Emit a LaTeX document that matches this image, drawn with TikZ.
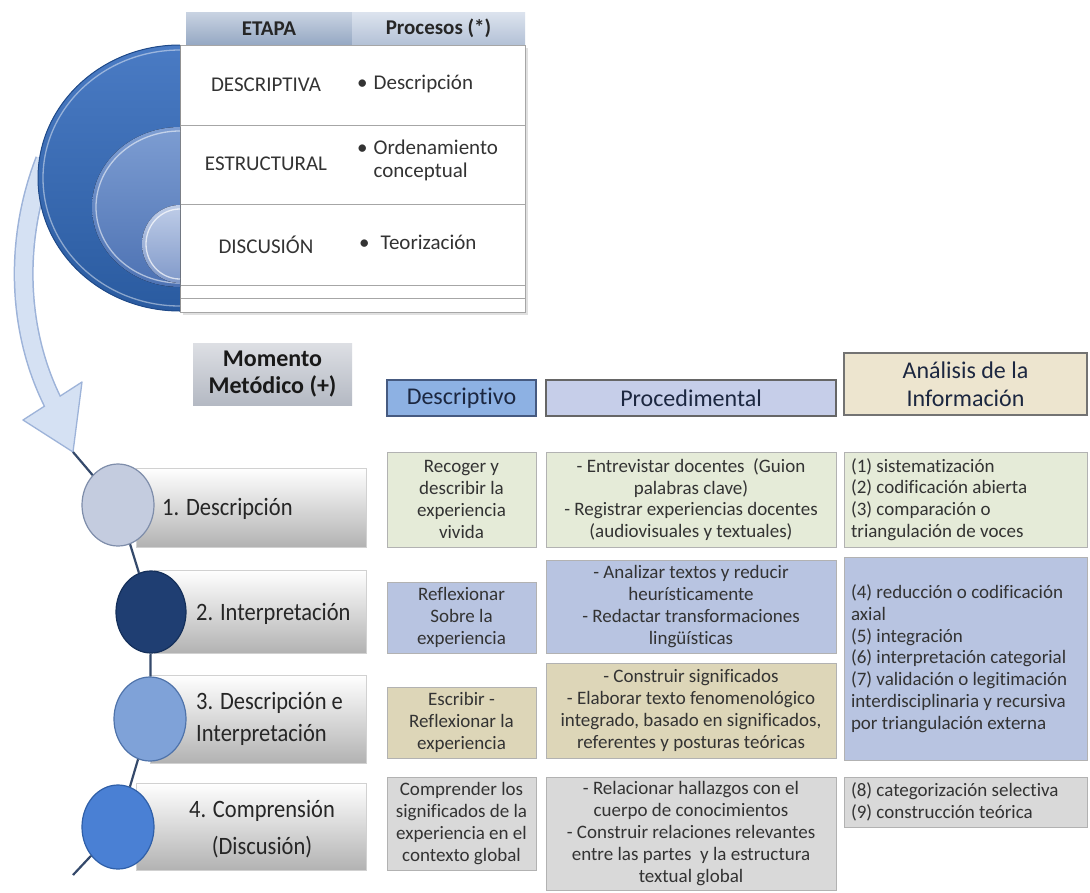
\documentclass[tikz,border=0pt]{standalone}
\usepackage{fontspec}
\setmainfont{Carlito}[Ligatures=NoCommon]
\newfontfamily\condfont{Carlito}[FakeStretch=0.9,Ligatures=NoCommon]
\usetikzlibrary{shapes.geometric}
\newcommand\fsz[2]{\fontsize{#1}{#2}\selectfont}
\definecolor{txt}{HTML}{333333}
\definecolor{hdtxt}{HTML}{1C2740}
\definecolor{linkc}{HTML}{34496B}
\definecolor{arrfill}{HTML}{D5E1F3}
\definecolor{arrline}{HTML}{9DB3D9}
\definecolor{greenc}{HTML}{E5EBD8}
\definecolor{lavc}{HTML}{B8C4E1}
\definecolor{beigec}{HTML}{DDD6B8}
\definecolor{grayc}{HTML}{D9D9D9}
\definecolor{etTop}{HTML}{C9D3E2}
\definecolor{etBot}{HTML}{95A8C3}
\definecolor{prTop}{HTML}{DCE3EE}
\definecolor{prBot}{HTML}{B3C1D6}
\definecolor{d1Top}{HTML}{4A7BC4}
\definecolor{d1Bot}{HTML}{2A5BA0}
\definecolor{d1Brd}{HTML}{1F4A8A}
\definecolor{d2Top}{HTML}{7D9DD2}
\definecolor{d2Bot}{HTML}{4D72B3}
\definecolor{d3Top}{HTML}{BFCDE8}
\definecolor{d3Bot}{HTML}{8099C9}
\definecolor{c1Fill}{HTML}{C4CCDF}
\definecolor{c1Brd}{HTML}{7E8DAA}
\definecolor{c2Fill}{HTML}{1F3E72}
\definecolor{c2Brd}{HTML}{142F5A}
\definecolor{c3Fill}{HTML}{7FA2D8}
\definecolor{c3Brd}{HTML}{4F73AA}
\definecolor{c4Fill}{HTML}{4A80D4}
\definecolor{c4Brd}{HTML}{2F5FA8}
\definecolor{hDFill}{HTML}{8DB1E3}
\definecolor{hDBrd}{HTML}{465A80}
\definecolor{hPFill}{HTML}{C6CEE9}
\definecolor{hAFill}{HTML}{EDE5CF}
\definecolor{momTop}{HTML}{DDDFE4}
\definecolor{momBot}{HTML}{B4B9C3}
\begin{document}
\begin{tikzpicture}[x=1pt,y=1pt,
  cellbox/.style={rectangle, draw=black!30, line width=0.7pt, inner sep=0pt, align=center, text=txt, font=\fsz{19}{21.8}},
  leftcell/.style={cellbox, text width=229pt, inner xsep=7pt, align=flush left},
  hdbox/.style={rectangle, line width=1.2pt, inner sep=0pt, align=center, text=hdtxt, font=\fsz{24}{28}},
  barbox/.style={rectangle, inner sep=0pt, top color=white, middle color=black!3, bottom color=black!30, draw=black!18, line width=0.6pt},
  circ/.style={ellipse, inner sep=0pt, line width=1.2pt},
  link/.style={draw=linkc, line width=2.2pt},
  tophead/.style={rectangle, inner sep=0pt, font=\bfseries\fsz{21}{24}, text=black!85, minimum height=33pt},
  toptxt/.style={font=\fsz{21}{23}, text=txt, inner sep=0pt},
  barlbl/.style={font=\condfont\fsz{25}{32}, text=black!85, inner sep=0pt},
  tabline/.style={draw=black!35, line width=0.8pt}]
\useasboundingbox (0,0) rectangle (1090,-892);
\fill[white] (0,0) rectangle (1090,-892);

% ---------- top table ----------
\node[tophead, minimum width=166pt, top color=etTop, bottom color=etBot] (hEtapa) at (269,-28.5) {ETAPA};
\node[tophead, minimum width=173pt, top color=prTop, bottom color=prBot] (hProc) at (438.5,-28.5) {Procesos (*)};
\fill[black!12] (183,-48) rectangle (528,-315);
\filldraw[fill=white, draw=black!35, line width=0.8pt] (180,-45) rectangle (525,-312);
\draw[tabline] (180,-125) -- (525,-125);
\draw[tabline] (180,-204) -- (525,-204);
\draw[tabline] (180,-285) -- (525,-285);
\draw[tabline] (180,-298) -- (525,-298);
\node[toptxt] (tDes) at (266,-85) {DESCRIPTIVA};
\node[toptxt] (tEst) at (266,-164) {ESTRUCTURAL};
\node[toptxt] (tDis) at (266,-245) {DISCUSIÓN};
\node[toptxt, anchor=west] (pDes) at (357,-85) {\begin{tabular}{@{}l@{\hspace{6pt}}l@{}}•&Descripción\end{tabular}};
\node[toptxt, anchor=west] (pOrd) at (357,-161.5) {\begin{tabular}{@{}l@{\hspace{6pt}}l@{}}•&Ordenamiento\\&conceptual\end{tabular}};
\node[toptxt, anchor=west] (pTeo) at (359,-245) {\begin{tabular}{@{}l@{\hspace{11pt}}l@{}}•&Teorización\end{tabular}};

% ---------- curved arrow ----------
\draw[line width=20pt, color=arrline] (45,-160) .. controls (12,-245) and (18,-340) .. (58,-412);
\filldraw[fill=arrfill, draw=arrline, line width=1.3pt, line join=round] (23,-420) -- (82,-382) -- (73,-452) -- cycle;
\draw[line width=17pt, color=arrfill] (45,-160) .. controls (12,-245) and (18,-340) .. (58,-412);
\coordinate (atip) at (73,-452);

% ---------- nested half discs ----------
\fill[top color=d1Top, bottom color=d1Bot]
  (180,-45) arc[start angle=90, end angle=270, x radius=142, y radius=133] -- cycle;
\draw[d1Brd, line width=1pt] (180,-45) arc[start angle=90, end angle=270, x radius=142, y radius=133];
\draw[white, opacity=0.45, line width=1.3pt] (180,-50) arc[start angle=90, end angle=270, x radius=137, y radius=128];
\fill[top color=d2Top, bottom color=d2Bot]
  (180,-127) arc[start angle=90, end angle=270, x radius=88, y radius=80] -- cycle;
\draw[white, opacity=0.55, line width=1.3pt] (180,-131) arc[start angle=90, end angle=270, x radius=84, y radius=76];
\fill[top color=d3Top, bottom color=d3Bot]
  (180,-205) arc[start angle=90, end angle=270, x radius=38, y radius=39] -- cycle;
\draw[white, opacity=0.7, line width=1.3pt] (180,-209) arc[start angle=90, end angle=270, x radius=34, y radius=35];

% ---------- Momento metodico ----------
\node[rectangle, inner sep=0pt, minimum width=159pt, minimum height=62pt, top color=momTop, bottom color=momBot,
  align=center, font=\bfseries\fsz{24}{27}, text=black!90] (mom) at (272.5,-374) {Momento\\Metódico (+)};

% ---------- left bars ----------
\node[barbox, minimum width=230pt, minimum height=79pt] (bar1) at (251,-507.5) {};
\node[barbox, minimum width=212pt, minimum height=83pt] (bar2) at (260,-611.5) {};
\node[barbox, minimum width=216pt, minimum height=88pt] (bar3) at (258,-719) {};
\node[barbox, minimum width=230pt, minimum height=87pt] (bar4) at (251,-826.5) {};
\node[barlbl, anchor=base west] (lb1) at (162,-515) {1. Descripción};
\node[barlbl, anchor=base west] (lb2) at (196,-620) {2. Interpretación};
\node[barlbl, anchor=west, align=left] (lb3) at (196,-719) {3. Descripción e\\Interpretación};
\node[barlbl, align=center, font=\condfont\fsz{25}{37}] (lb4) at (262,-829) {4. Comprensión\\(Discusión)};

% ---------- circles ----------
\node[circ, minimum width=72pt, minimum height=82pt, fill=c1Fill, draw=c1Brd] (c1) at (118,-505) {};
\node[circ, minimum width=70pt, minimum height=82pt, fill=c2Fill, draw=c2Brd] (c2) at (151,-612) {};
\node[circ, minimum width=72pt, minimum height=84pt, fill=c3Fill, draw=c3Brd] (c3) at (150,-719) {};
\node[circ, minimum width=72pt, minimum height=84pt, fill=c4Fill, draw=c4Brd] (c4) at (118,-827) {};
\coordinate (tail) at (73,-875);
\draw[link] (atip) -- (c1);
\draw[link] (c1) -- (c2);
\draw[link] (c2) -- (c3);
\draw[link] (c3) -- (c4);
\draw[link] (c4) -- (tail);

% ---------- column headers ----------
\node[hdbox, minimum width=149pt, minimum height=36pt, fill=hDFill, draw=hDBrd] (hD) at (461.5,-398) {Descriptivo};
\node[hdbox, minimum width=290pt, minimum height=36pt, fill=hPFill, draw=black!60] (hPr) at (691,-398) {Procedimental};
\node[hdbox, minimum width=243pt, minimum height=62pt, fill=hAFill, draw=black!55] (hA) at (965.5,-384) {Análisis de la\\Información};

% ---------- row 1 ----------
\node[cellbox, fill=greenc, minimum width=149pt, minimum height=95pt] (d1) at (461.5,-499.5) {Recoger y\\describir la\\experiencia\\vivida};
\node[cellbox, fill=greenc, minimum width=290pt, minimum height=95pt] (p1) at (691,-499.5) {- Entrevistar docentes\ \ (Guion\\palabras clave)\\- Registrar experiencias docentes\\(audiovisuales y textuales)};
\node[leftcell, fill=greenc, minimum width=243pt, minimum height=95pt] (a1) at (965.5,-499.5) {(1) sistematización\\(2) codificación abierta\\(3) comparación o\\triangulación de voces};

% ---------- row 2 ----------
\node[cellbox, fill=lavc, minimum width=149pt, minimum height=71pt] (d2) at (461.5,-617.5) {Reflexionar\\Sobre la\\experiencia};
\node[cellbox, fill=lavc, minimum width=290pt, minimum height=93pt] (p2) at (691,-606.5) {- Analizar textos y reducir\\heurísticamente\\- Redactar transformaciones\\lingüísticas};
\node[leftcell, fill=lavc, minimum width=243pt, minimum height=203pt] (a2) at (965.5,-658.5) {(4) reducción o codificación\\axial\\(5) integración\\(6) interpretación categorial\\(7) validación o legitimación\\interdisciplinaria y recursiva\\por triangulación externa};

% ---------- row 3 ----------
\node[cellbox, fill=beigec, minimum width=149pt, minimum height=71pt] (d3) at (461.5,-722.5) {Escribir -\\Reflexionar la\\experiencia};
\node[cellbox, fill=beigec, minimum width=290pt, minimum height=95pt] (p3) at (691,-710.5) {- Construir significados\\- Elaborar texto fenomenológico\\integrado, basado en significados,\\referentes y posturas teóricas};

% ---------- row 4 ----------
\node[cellbox, fill=grayc, minimum width=149pt, minimum height=93pt] (d4) at (461.5,-823.5) {Comprender los\\significados de la\\experiencia en el\\contexto global};
\node[cellbox, fill=grayc, minimum width=290pt, minimum height=113pt] (p4) at (691,-833.5) {- Relacionar hallazgos con el\\cuerpo de conocimientos\\- Construir relaciones relevantes\\entre las partes\ \ y la estructura\\textual global};
\node[leftcell, fill=grayc, minimum width=243pt, minimum height=50pt] (a4) at (965.5,-802) {(8) categorización selectiva\\(9) construcción teórica};
\end{tikzpicture}
\end{document}
